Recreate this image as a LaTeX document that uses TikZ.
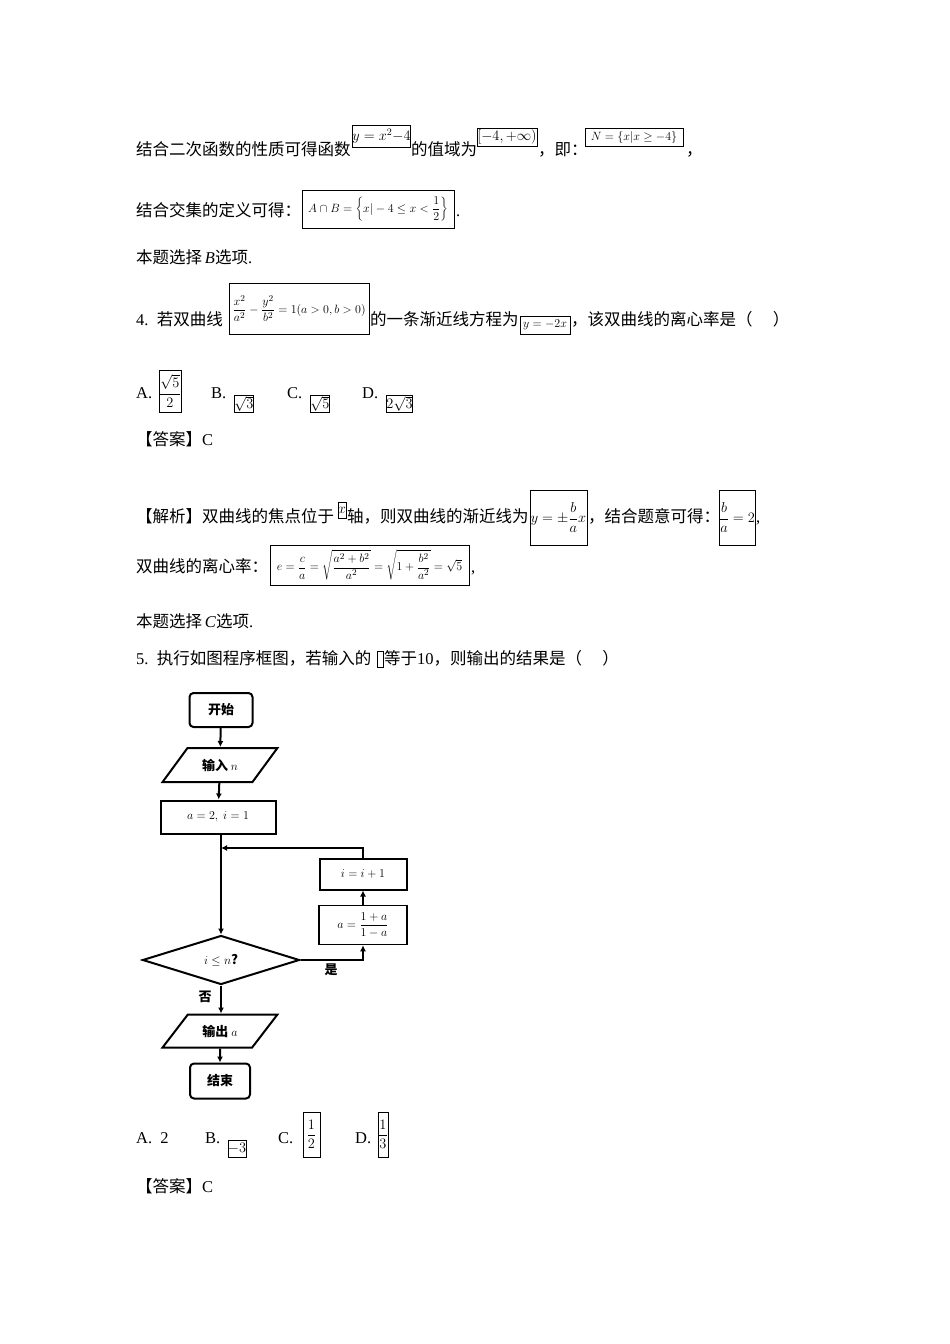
\documentclass[tikz,border=0pt]{standalone}
\usepackage{fontspec}
\setmainfont{Liberation Serif}
\newfontfamily\cjk{Noto Sans CJK SC}
\usetikzlibrary{shapes.geometric,arrows.meta}
\newcommand\zh[1]{{\cjk #1}}
\newcommand\mb[6]{\node[mbox,minimum width={(#4-#2)*1pt},minimum height={(#5-#3)*1pt}] (#1) at ({(#2+#4)/2},{(#3+#5)/2}) {#6};}
\newcommand\fs[1]{\fontsize{#1}{#1}\selectfont}
\begin{document}
\begin{tikzpicture}[x=1pt,y=-1pt,
  txt/.style={anchor=base west,inner sep=0,font=\fontsize{16.5}{18}\selectfont},
  mbox/.style={draw,thin,inner sep=0,font=\fs{15}},
  fc/.style={draw,line width=2pt,inner sep=0,font=\cjk\bfseries\fs{13}},
  para/.style={fc,trapezium,trapezium left angle=42,trapezium right angle=138,trapezium stretches=true,minimum height=34pt,minimum width=115pt},
  arr/.style={line width=2pt,-{Latex[length=6pt,width=6pt]}}]
\fill[white] (0,0) rectangle (950,1344);
\useasboundingbox (0,0) rectangle (950,1344);
% line 1
\node[txt] (t1) at (136,155) {\zh{结合二次函数的性质可得函数}};
\mb{b1}{353}{125}{410}{147}{\fs{14}$y=x^2{-}4$}
\node[txt] (t2) at (411,155) {\zh{的值域为}};
\mb{b2}{477}{128}{537}{146}{\fs{14}$[-4,+\infty)$}
\node[txt] (t3) at (538,155) {\zh{，即：}};
\mb{b3}{585}{128}{683}{146}{\fs{13}$N=\{x|x\ge -4\}$}
\node[txt] (t4) at (686,155) {\zh{，}};
% line 2
\node[txt] (t5) at (136,216) {\zh{结合交集的定义可得：}};
\mb{b4}{302}{190}{454}{228}{\fs{12.5}$A\cap B=\left\{x|-4\le x<\displaystyle\frac12\right\}$}
\node[txt] (t6) at (456,216) {.};
% line 3
\node[txt] (t7) at (136,263) {\zh{本题选择}\,\textit{B}\zh{选项}.};
% line 4
\node[txt] (t8) at (136,325) {4.\ \ \zh{若双曲线}};
\mb{b5}{229}{283}{369}{334}{\fs{13}$\displaystyle\frac{x^2}{a^2}-\frac{y^2}{b^2}=1(a>0,b>0)$}
\node[txt] (t9) at (370,325) {\zh{的一条渐近线方程为}};
\mb{b6}{520}{316}{570}{334}{\fs{13}$y=-2x$}
\node[txt] (t10) at (571,325) {\zh{，该双曲线的离心率是（\quad\ ）}};
% options
\node[txt] (oA) at (136,398) {A.};
\mb{bA}{162}{370}{178}{412}{$\displaystyle\frac{\sqrt5}{2}$}
\node[txt] (oB) at (211,398) {B.};
\mb{bB}{236}{395}{252}{412}{$\sqrt3$}
\node[txt] (oC) at (287,398) {C.};
\mb{bC}{312}{395}{328}{412}{$\sqrt5$}
\node[txt] (oD) at (362,398) {D.};
\mb{bD}{387}{395}{412}{412}{$2\sqrt3$}
\node[txt] (ans1) at (136,445) {\zh{【答案】}C};
% analysis
\node[txt] (t11) at (136,522) {\zh{【解析】双曲线的焦点位于}};
\mb{bx}{338}{502}{346}{518}{$x$}
\node[txt] (t12) at (347,522) {\zh{轴，则双曲线的渐近线为}};
\mb{b7}{530}{490}{587}{545}{\fs{14}$y=\pm\displaystyle\frac{b}{a}x$}
\node[txt] (t13) at (588,522) {\zh{，结合题意可得：}};
\mb{b8}{721}{490}{753}{545}{\fs{14}$\displaystyle\frac{b}{a}=2$}
\node[txt] (t14) at (756,522) {,};
\node[txt] (t15) at (136,572) {\zh{双曲线的离心率：}};
\mb{b9}{270}{545}{469}{585}{\fs{12.5}$\displaystyle e=\frac ca=\sqrt{\frac{a^2+b^2}{a^2}}=\sqrt{1+\frac{b^2}{a^2}}=\sqrt5$}
\node[txt] (t16) at (471,572) {,};
\node[txt] (t17) at (136,627) {\zh{本题选择}\,\textit{C}\zh{选项}.};
\node[txt] (t18) at (136,664) {5.\ \ \zh{执行如图程序框图，若输入的}};
\mb{bn}{377}{651}{383}{667}{}
\node[txt] (t19) at (384,664) {\zh{等于}10\zh{，则输出的结果是（\quad\ ）}};
% flowchart
\node[fc,rounded corners=4pt,minimum width=63pt,minimum height=34pt] (start) at (221,710) {开始};
\node[para] (inp) at (220,765) {输入 $n$};
\node[fc,minimum width=115pt,minimum height=33pt] (init) at (218,817) {$a=2,\ i=1$};
\node[fc,diamond,minimum width=157pt,minimum height=49pt] (dec) at (221,960) {$i\le n$?};
\node[fc,minimum width=88pt,minimum height=39pt,line width=1.5pt] (upd) at (363,925) {\fs{12}$a=\displaystyle\frac{1+a}{1-a}$};
\node[fc,minimum width=87pt,minimum height=31pt] (inc) at (363,874) {$i=i+1$};
\node[para,minimum height=33pt] (out) at (220,1031) {输出 $a$};
\node[fc,rounded corners=4pt,minimum width=60pt,minimum height=35pt] (stop) at (220,1081) {结束};
\coordinate (join) at (221,848);
\coordinate (corner) at (363,848);
\draw[arr] (start) -- (inp);
\draw[arr] (inp) -- (init);
\draw[arr] (init.south -| join) -- (dec.north);
\draw[arr] (dec.east) -| (upd.south);
\draw[arr] (upd.north) -- (inc.south);
\draw[arr] (inc.north) -- (corner) -- (join);
\draw[arr] (dec.south) -- (dec.south |- out.north);
\draw[arr] (out) -- (stop);
\node[inner sep=0,font=\cjk\bfseries\fs{13}] (yes) at (331,970) {是};
\node[inner sep=0,font=\cjk\bfseries\fs{13}] (no) at (205,997) {否};
% answers
\node[txt] (pA) at (136,1143) {A.\ \ 2};
\node[txt] (pB) at (205,1143) {B.};
\mb{qB}{229}{1140}{245}{1157}{$-3$}
\node[txt] (pC) at (278,1143) {C.};
\mb{qC}{303}{1112}{320}{1157}{$\displaystyle\frac12$}
\node[txt] (pD) at (355,1143) {D.};
\mb{qD}{379}{1112}{387}{1157}{$\displaystyle\frac13$}
\node[txt] (ans2) at (136,1192) {\zh{【答案】}C};
\end{tikzpicture}
\end{document}
